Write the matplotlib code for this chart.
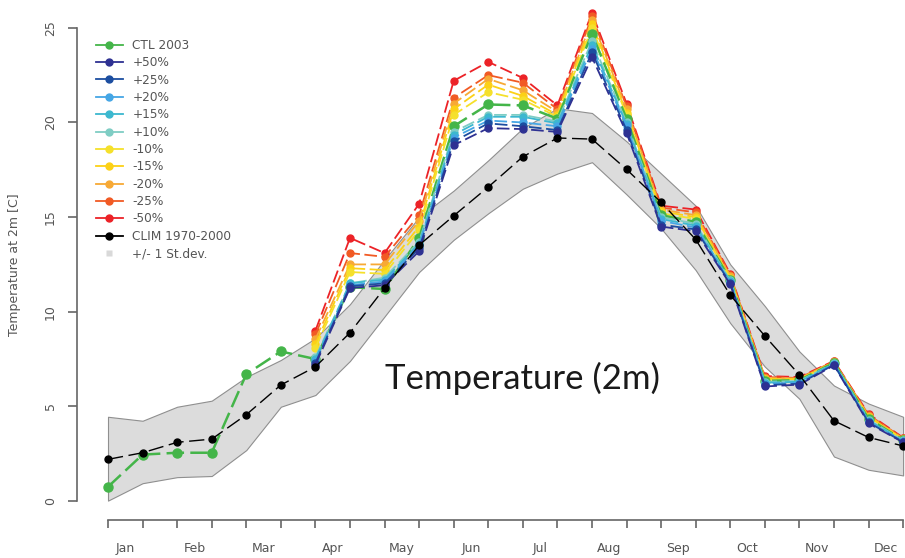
import numpy as np
import matplotlib.pyplot as plt
from matplotlib.lines import Line2D

plt.rcParams['font.family'] = ['DejaVu Sans']

# dati: due valori per mese (1 e 15)
months = ['Jan', 'Feb', 'Mar', 'Apr', 'May', 'Jun', 'Jul', 'Aug', 'Sep', 'Oct', 'Nov', 'Dec']
x = np.arange(24)

clim = [2.2, 2.55, 3.1, 3.27, 4.56, 6.13, 7.09, 8.89, 11.25, 13.52, 15.07, 16.59,
        18.19, 19.18, 19.12, 17.52, 15.78, 13.82, 10.88, 8.72, 6.66, 4.24, 3.36, 2.91]
clim_upper = [4.45, 4.24, 4.98, 5.3, 6.55, 7.45, 8.6, 10.4, 12.75, 15.0, 16.4, 18.0,
              19.7, 20.75, 20.5, 19.0, 17.3, 15.6, 12.5, 10.3, 7.9, 6.1, 5.15, 4.45]
clim_lower = [0.02, 0.94, 1.26, 1.32, 2.69, 4.98, 5.6, 7.4, 9.75, 12.1, 13.8, 15.2,
              16.5, 17.3, 17.9, 16.2, 14.4, 12.2, 9.4, 7.1, 5.4, 2.35, 1.65, 1.35]

ctl_2003 = [0.75, 2.45, 2.55, 2.55, 6.7, 7.9, 7.5, 11.3, 11.2, 13.9, 19.8, 20.95,
            20.9, 20.2, 24.7, 20.2, 15.1, 14.75, 11.7, 6.35, 6.38, 7.3, 4.35, 3.22]
plus50 = [None] * 6 + [7.2, 11.25, 11.4, 13.2, 18.8, 19.7, 19.65, 19.5, 23.45, 19.45,
                       14.5, 14.25, 11.45, 6.05, 6.15, 7.17, 4.1, 3.1]
plus25 = [None] * 6 + [7.3, 11.35, 11.5, 13.35, 19.0, 19.95, 19.8, 19.6, 23.7, 19.6,
                       14.6, 14.35, 11.5, 6.12, 6.2, 7.2, 4.15, 3.12]
plus20 = [None] * 6 + [7.4, 11.4, 11.6, 13.5, 19.2, 20.1, 20.0, 19.8, 23.9, 19.8,
                       14.8, 14.45, 11.55, 6.2, 6.25, 7.23, 4.2, 3.15]
plus15 = [None] * 6 + [7.5, 11.5, 11.7, 13.6, 19.35, 20.3, 20.3, 19.95, 24.1, 19.9,
                       14.9, 14.55, 11.6, 6.25, 6.3, 7.26, 4.25, 3.18]
plus10 = [None] * 6 + [7.6, 11.5, 11.8, 13.7, 19.5, 20.4, 20.4, 20.05, 24.3, 20.0,
                       15.0, 14.65, 11.65, 6.3, 6.34, 7.28, 4.3, 3.2]
minus10 = [None] * 6 + [8.1, 12.1, 12.0, 14.3, 20.4, 21.6, 21.2, 20.3, 25.0, 20.4,
                        15.2, 14.9, 11.75, 6.4, 6.41, 7.32, 4.4, 3.25]
minus15 = [None] * 6 + [8.3, 12.3, 12.2, 14.5, 20.7, 22.0, 21.4, 20.4, 25.2, 20.5,
                        15.3, 15.0, 11.8, 6.45, 6.44, 7.34, 4.45, 3.28]
minus20 = [None] * 6 + [8.55, 12.5, 12.5, 14.8, 21.0, 22.3, 21.7, 20.55, 25.4, 20.7,
                        15.4, 15.1, 11.9, 6.5, 6.47, 7.36, 4.5, 3.3]
minus25 = [None] * 6 + [8.8, 13.1, 12.9, 15.1, 21.3, 22.5, 22.1, 20.7, 25.6, 20.85,
                        15.5, 15.25, 11.95, 6.55, 6.5, 7.38, 4.55, 3.32]
minus50 = [None] * 6 + [9.0, 13.9, 13.1, 15.7, 22.2, 23.2, 22.35, 20.9, 25.8, 21.0,
                        15.6, 15.4, 12.0, 6.6, 6.55, 7.4, 4.6, 3.35]

# ordine legenda
labels = ['CTL 2003', '+50%', '+25%', '+20%', '+15%', '+10%',
          '-10%', '-15%', '-20%', '-25%', '-50%']
series = [ctl_2003, plus50, plus25, plus20, plus15, plus10,
          minus10, minus15, minus20, minus25, minus50]
colors = ['#44b549', '#2e3192', '#1c4ea0', '#45a6e5', '#3cb8cf', '#7fcdc4',
          '#f5e02b', '#fcd116', '#f7a935', '#f15a24', '#ec2227']

fig = plt.figure(figsize=(9.05, 5.58), dpi=100)
ax = fig.add_axes([77 / 905, 1 - 520 / 558, 1 - 77 / 905, 520 / 558])

# banda +/- 1 dev. std
ax.fill_between(x, clim_lower, clim_upper, facecolor='#dcdcdc', edgecolor='#8f8f8f',
                lw=0.8, zorder=1)

# ordine di disegno: rossi sotto, blu sopra
draw_order = [10, 9, 8, 7, 6, 0, 5, 4, 3, 2, 1]
for k, idx in enumerate(draw_order):
    vals = np.array(series[idx], dtype=float)
    lw = 1.8 if idx == 0 else 1.3
    ms = 6.5 if idx == 0 else 5
    ax.plot(x, vals, color=colors[idx], lw=lw, ls=(0, (7, 2.5)), marker='o', ms=ms,
            mec=colors[idx], zorder=2 + k)

ax.plot(x, clim, color='black', lw=1.0, ls=(0, (11, 4)), marker='o', ms=5, zorder=20)

# assi stile R
ax.set_xlim(-0.897, 23.055)
ax.set_ylim(-1.004, 26.47)
ax.spines['top'].set_visible(False)
ax.spines['right'].set_visible(False)
ax.spines['left'].set_bounds(0, 25)
ax.spines['bottom'].set_bounds(0, 23)
for s in ['left', 'bottom']:
    ax.spines[s].set_color('#666666')
    ax.spines[s].set_linewidth(1.2)

ax.set_yticks([0, 5, 10, 15, 20, 25])
ax.tick_params(axis='y', length=6.5, width=1.2, color='#666666', labelsize=9,
               labelcolor='#555555', pad=8)
for lab in ax.get_yticklabels():
    lab.set_rotation(90)
    lab.set_va('center')

ax.set_xticks(x)
ax.set_xticklabels([''] * 24)
ax.set_xticks(np.arange(0, 24, 2) + 0.5, minor=True)
ax.set_xticklabels(months, minor=True)
ax.tick_params(axis='x', which='major', length=6, width=1.2, color='#666666')
ax.tick_params(axis='x', which='minor', length=0, labelsize=9, labelcolor='#555555', pad=16)

fig.text(15 / 905, 1 - 265 / 558, 'Temperature at 2m [C]', rotation=90, ha='center',
         va='center', fontsize=9, color='#555555')

fig.text(522 / 905, 1 - 378 / 558, 'Temperature (2m)', ha='center', va='center',
         fontsize=25, color='#1a1a1a', family=['Lato', 'DejaVu Sans'])

# legenda
handles = [Line2D([], [], color=c, lw=1.3, marker='o', ms=5) for c in colors]
handles.append(Line2D([], [], color='black', lw=1.3, marker='o', ms=5))
handles.append(Line2D([], [], ls='none', marker='s', ms=5, mfc='#d9d9d9', mec='none'))
leg_labels = labels + ['CLIM 1970-2000', '+/- 1 St.dev.']
ax.legend(handles, leg_labels, loc='upper left', bbox_to_anchor=(96 / 905, 1 - 39 / 558),
          bbox_transform=fig.transFigure, frameon=False, fontsize=8.7, handlelength=2.2,
          handletextpad=0.8, labelspacing=0.36, borderpad=0, borderaxespad=0,
          labelcolor='#555555')

fig.savefig('out.png', dpi=100)
